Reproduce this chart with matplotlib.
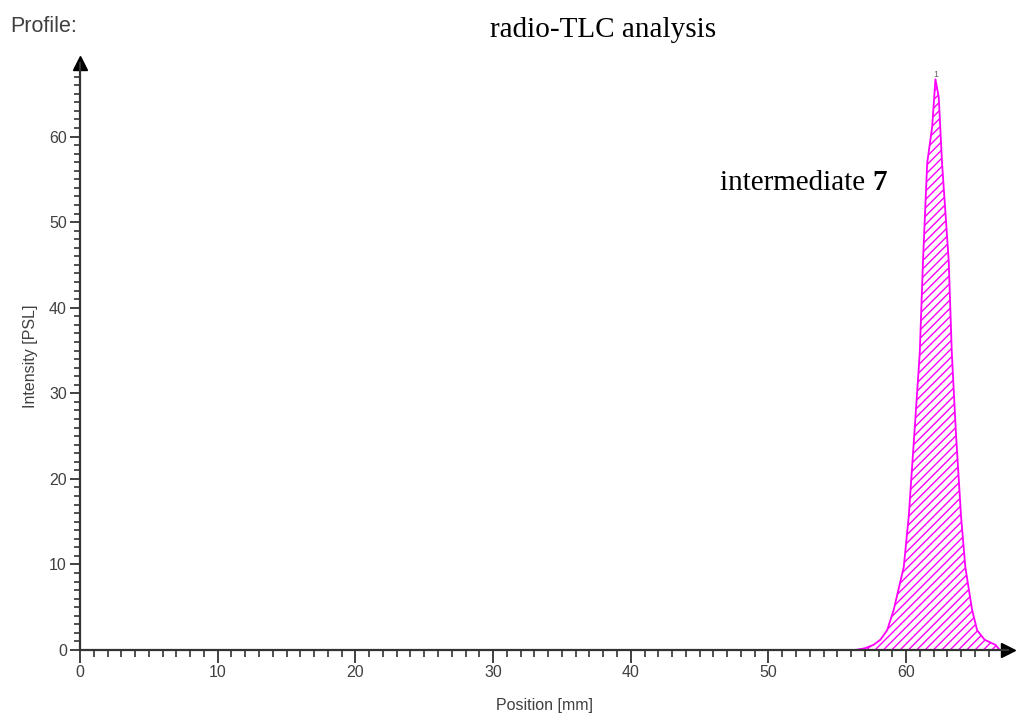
import matplotlib
matplotlib.use("Agg")
import matplotlib.pyplot as plt
from matplotlib.ticker import MultipleLocator

plt.rcParams.update(
    {
        "font.family": ["Liberation Sans", "DejaVu Sans"],
        "hatch.linewidth": 1.0,
    }
)

# radio-TLC profile (position in mm, intensity in PSL)
position = [0, 56.3, 57.0, 57.63, 58.13, 58.62, 59.10, 59.83, 60.19, 60.60, 60.99,
            61.23, 61.53, 61.89, 62.13, 62.37, 62.61, 63.09, 63.32, 63.62, 63.99,
            64.30, 64.79, 65.16, 65.70, 66.49, 66.8]
intensity = [0, 0, 0.2, 0.6, 1.2, 2.3, 4.7, 9.7, 15.6, 25.3, 34.7,
             45.6, 56.9, 61.1, 66.7, 64.6, 56.9, 45.6, 34.7, 25.3, 15.6,
             9.7, 4.7, 2.3, 1.2, 0.6, 0]

peak_labels = ["1"]
peak_pos = [62.13]
peak_height = [66.7]

axis_col = "#333333"
pink = "#ff00ff"

fig = plt.figure(figsize=(10.16, 7.18), dpi=100)
ax = fig.add_axes([80 / 1016, 1 - 650 / 718, (1008 - 80) / 1016, (650 - 63) / 718])

ax.fill_between(position, intensity, 0, facecolor="none", edgecolor=pink,
                hatch="////", linewidth=0)
ax.plot(position, intensity, color=pink, lw=1.3, solid_joinstyle="round")

ax.set_xlim(0, 67.4)
ax.set_ylim(0, 68.6)

for s in ["top", "right"]:
    ax.spines[s].set_visible(False)
for s in ["left", "bottom"]:
    ax.spines[s].set_color(axis_col)
    ax.spines[s].set_linewidth(1.6)

ax.xaxis.set_major_locator(MultipleLocator(10))
ax.xaxis.set_minor_locator(MultipleLocator(1))
ax.yaxis.set_major_locator(MultipleLocator(10))
ax.yaxis.set_minor_locator(MultipleLocator(1))
ax.tick_params(axis="x", which="major", length=9.5, width=1.3, color=axis_col,
               labelsize=11.5, labelcolor="#404040", pad=1.5)
ax.tick_params(axis="x", which="minor", length=5, width=1.2, color=axis_col)
ax.tick_params(axis="y", which="major", length=7, width=1.3, color=axis_col,
               labelsize=11.5, labelcolor="#404040", pad=2.5)
ax.tick_params(axis="y", which="minor", length=4, width=1.2, color=axis_col)

# arrow heads at the axis ends
ax.plot(0, 1, marker="^", markersize=10, color="black", transform=ax.transAxes, clip_on=False)
ax.plot(1, 0, marker=">", markersize=10, color="black", transform=ax.transAxes, clip_on=False)

for lab, x, y in zip(peak_labels, peak_pos, peak_height):
    ax.annotate(lab, (x, y), xytext=(0, 0.5), textcoords="offset points",
                ha="center", va="bottom", fontsize=6.5, color="#606060")

ax.set_xlabel("Position [mm]", fontsize=11.5, color="#404040", labelpad=13)
ax.set_ylabel("Intensity [PSL]", fontsize=11.5, color="#404040", labelpad=8)

fig.text(10 / 1016, 1 - 26 / 718, "Profile:", fontsize=15.5, color="#404040",
         ha="left", va="center")
fig.text(603 / 1016, 1 - 30 / 718, "radio-TLC analysis", fontsize=21,
         family="Liberation Serif", ha="center", va="center")
t1 = fig.text(720 / 1016, 1 - 183 / 718, "intermediate ", fontsize=21,
              family="Liberation Serif", ha="left", va="center")
ax.annotate("7", xy=(1, 0.5), xycoords=t1, fontsize=21, family="Liberation Serif",
            weight="bold", ha="left", va="center")

fig.savefig("out.png", dpi=100)
